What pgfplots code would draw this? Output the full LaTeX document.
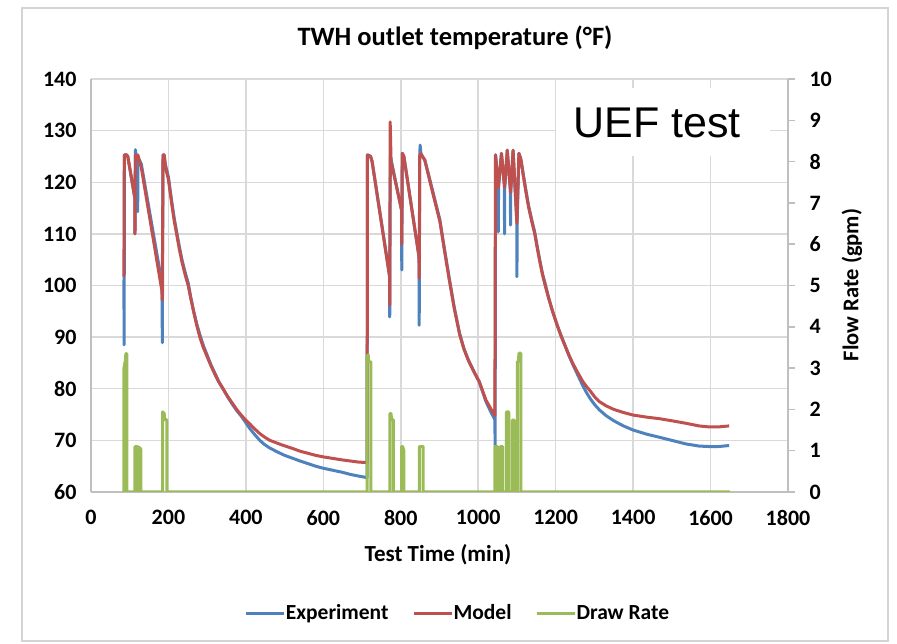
\documentclass[border=0pt]{standalone}
\usepackage{pgfplots}
\pgfplotsset{compat=1.18}
\usepackage{fontspec}
\setmainfont{Carlito}
\newfontfamily\arialfont{Liberation Sans}
\definecolor{expblue}{HTML}{4F81BD}
\definecolor{modred}{HTML}{C0504D}
\definecolor{drawgreen}{HTML}{9BBB59}
\definecolor{gridgray}{HTML}{D9D9D9}
\definecolor{axgray}{HTML}{BFBFBF}
\definecolor{framegray}{HTML}{D4D4D4}
\begin{document}
\begin{tikzpicture}[x=1pt,y=1pt]
\path (-91,-152) rectangle (806,492);
\draw[framegray, line width=1.5pt] (-69,-149) rectangle (797,484);
\node[font=\fontsize{26.5}{30}\selectfont\bfseries] at (364,454) {TWH outlet temperature (°F)};
\node[font=\fontsize{23}{27}\selectfont\bfseries] at (347,-63) {Test Time (min)};
\node[font=\fontsize{22.5}{26}\selectfont\bfseries, rotate=90] at (761,207) {Flow Rate (gpm)};
\begin{axis}[
  at={(0pt,0pt)}, anchor=south west,
  scale only axis, width=697pt, height=413pt,
  xmin=0, xmax=1800, ymin=60, ymax=140,
  xtick={0,200,...,1800}, ytick={60,70,...,140},
  grid=major, major grid style={draw=gridgray, line width=1.5pt},
  axis x line*=bottom, axis y line*=left,
  axis line style={draw=axgray, line width=1.5pt, -},
  major tick length=0pt,
  tick style={draw=none},
  scaled x ticks=false, scaled y ticks=false,
  /pgf/number format/assume math mode=true,
  /pgf/number format/1000 sep={},
  ticklabel style={font=\fontsize{22}{26}\selectfont\bfseries, text=black},
  yticklabel style={xshift=-11pt},
  xticklabel style={yshift=-15pt},
]
\addplot[expblue, line width=3pt, line join=round] coordinates {
(85,101)(85.5,88.5)(86.5,125.3)(92,125.3)(95,125)(113,117)(113.6,110)(114.5,126.3)(118,124.5)(120,124)(120.6,114.3)(121.3,124.5)(125,124.3)(130,123.5)(182,101)(183.5,99)(184.2,88.9)(186,125.3)(189,125.3)(192,123.5)(200,121)(205,118.2)(210,115.5)(215,113)(221,110.5)(228,107.6)(235,105)(243,102.6)(251,100.5)(258,97.6)(265,95)(273,92.6)(281,90.5)(290,88.4)(300,86.5)(310,84.6)(320,83)(330,81.4)(341,80)(353,78.4)(365,77)(377,75.7)(389,74.6)(400,73.4)(410,72.3)(423,71.1)(436,70)(448,69.2)(460,68.6)(480,67.8)(500,67.1)(522,66.5)(540,66)(560,65.5)(580,65)(600,64.6)(625,64.2)(650,63.8)(670,63.4)(690,63.1)(712,62.8)
(713,62.8)(714,125.3)(722,125)(726,124)(771,102)(771.5,93.9)(773,125)(776,124)(802,114.6)(802.6,103)(804,125.6)(808,125)(847,105.6)(847.6,92.3)(849,125.3)(850,127.2)(852,125.5)(862,124.3)(870,122)(880,119)(890,116)(901,112.7)(913,107)(925,101.5)(938,95.8)(952,90.7)(963,87.8)(975,85.5)(989,83.3)(1003,81.3)(1020,77.5)(1032,75.6)(1043,74)(1043.6,69)(1045,125.3)
(1051.5,119.5)(1052,110.4)(1052.5,119)(1060,125.6)(1067.5,119.5)(1068,110)(1068.5,119)(1075,126.2)(1083,118.5)(1083.5,111.7)(1084,118)(1090,126.2)(1099.5,112.5)(1100,101.7)(1100.5,112)(1105,125.6)
(1110,124.5)(1116,121.7)(1123,118.5)(1130,115.5)(1138,112.8)(1146,110.3)(1153,107.3)(1160,104.5)(1166,102.3)(1173,100.3)(1182,97.6)(1192,95)(1203,92.5)(1214,90.3)(1225,88.2)(1235,86.3)(1245,84.6)(1255,83)(1270,80.6)(1280,79.2)(1290,78)(1301,76.9)(1313,75.9)(1330,74.8)(1350,73.8)(1375,72.8)(1400,72)(1435,71.2)(1468,70.6)(1500,70)(1537,69.3)(1570,68.9)(1597,68.8)(1620,68.8)(1648,69)
};
\addplot[modred, line width=3pt, line join=round] coordinates {
(85,101.7)(86,125.3)(92,125.3)(95,125)(113,117)(113.6,110)(114.5,125.3)(118,124.5)(121,125.3)(125,124.2)(130,122.8)(183,99)(184,97.2)(186,125.3)(189,125.3)
(192,123)(200,120.5)(205,117.7)(210,115)(215,112.5)(221,110)(228,107.1)(235,104.5)(243,102.1)(251,100)(258,97.4)(265,95)(273,92.3)(281,90)(290,88)(300,86.2)(310,84.4)(320,82.8)(330,81.3)(341,80)(353,78.5)(365,77.2)(377,75.9)(389,74.8)(400,73.9)(410,73.2)(423,72.2)(436,71.3)(449,70.6)(462,70)(476,69.6)(490,69.2)(506,68.8)(522,68.4)(540,67.9)(560,67.5)(580,67.1)(600,66.8)(625,66.5)(650,66.2)(670,66)(690,65.8)(712,65.7)
(713,65.7)(714,125.3)(722,125)(726,124)(771,101.7)(771.6,96.2)(772.6,131.7)(775,124)(802,114.6)(802.6,108)(804,125.6)(808,125)(847,105.6)(847.6,101.4)(849,125.3)(852,125.5)(862,124.3)(870,121.8)(880,118.7)(890,115.7)(901,112.4)(913,106.7)(925,101.2)(938,95.6)(952,90.5)(963,87.7)(975,85.4)(989,83.3)(1003,81.3)(1020,77.8)(1032,76.2)(1043,74.8)(1044.5,125.3)
(1052,119)(1060,125.6)(1068,119)(1075,126.2)(1083.5,118)(1090,126.2)(1100,112)(1105,125.6)
(1110,124.5)(1116,121.5)(1123,118.2)(1130,115.2)(1138,112.5)(1146,110)(1153,107)(1160,104.3)(1166,102.1)(1173,100)(1182,97.5)(1192,95)(1203,92.5)(1214,90.2)(1225,88.2)(1235,86.4)(1245,84.8)(1255,83.4)(1270,81.4)(1280,80.4)(1290,79.5)(1301,78.4)(1313,77.5)(1330,76.7)(1350,76)(1375,75.4)(1400,74.9)(1435,74.5)(1468,74.2)(1500,73.8)(1537,73.3)(1570,72.8)(1597,72.6)(1620,72.6)(1648,72.8)
};
\end{axis}
\fill[white] (465,336) rectangle (679,404);
\node[font=\arialfont\fontsize{43}{48}\selectfont] at (566,369) {UEF test};
\begin{axis}[
  at={(0pt,0pt)}, anchor=south west,
  scale only axis, width=697pt, height=413pt,
  xmin=0, xmax=1800, ymin=0, ymax=10,
  axis x line=none, axis y line*=right,
  axis line style={draw=axgray, line width=1.5pt, -},
  ytick={0,1,...,10},
  tick align=outside, major tick length=7pt,
  tick style={draw=axgray, line width=1.5pt},
  /pgf/number format/assume math mode=true,
  ticklabel style={font=\fontsize{22}{26}\selectfont\bfseries, text=black},
  yticklabel style={xshift=11pt},
  legend columns=3,
  legend style={at={(0.5265,-0.293)}, anchor=center, draw=none, fill=none,
    font=\fontsize{21.5}{25}\selectfont\bfseries,
    /tikz/every even column/.append style={column sep=22pt},
    /tikz/every odd column/.append style={column sep=-2pt}},
  legend image code/.code={\draw[#1, line width=3pt] (0pt,0pt) -- (38pt,0pt);},
]
\addlegendimage{expblue}\addlegendentry{Experiment}
\addlegendimage{modred}\addlegendentry{Model}
\addplot[drawgreen, line width=3pt, line join=round] coordinates {
(85,0)(85,3.0)(87,3.1)(89,3.2)(90,3.35)(92.5,3.35)(92.5,0)
(113.5,0)(113.5,1.1)(119,1.1)(119,0)(120.5,0)(120.5,1.1)(128,1.05)(129,1.0)(129,0)
(185,0)(185,1.94)(189,1.9)(190,1.75)(196,1.75)(196,0)
(713,0)(713,3.3)(716,3.32)(717,3.15)(723,3.15)(723,0)
(772,0)(772,1.9)(775,1.9)(776,1.75)(781,1.75)(781,0)
(802,0)(802,1.1)(805,1.1)(808,1.0)(808,0)
(848,0)(848,1.1)(858,1.1)(858,0)
(1043,0)(1043,1.1)(1050,1.1)(1050,0)
(1057,0)(1057,1.1)(1063,1.1)(1063,0)
(1073,0)(1073,1.94)(1079,1.94)(1079,0)
(1088,0)(1088,1.74)(1093,1.74)(1093,0)
(1101,0)(1101,3.16)(1104,3.16)(1105,3.36)(1110,3.36)(1110,0)
(1650,0)
};
\addlegendentry{Draw Rate}
\end{axis}
\end{tikzpicture}
\end{document}
